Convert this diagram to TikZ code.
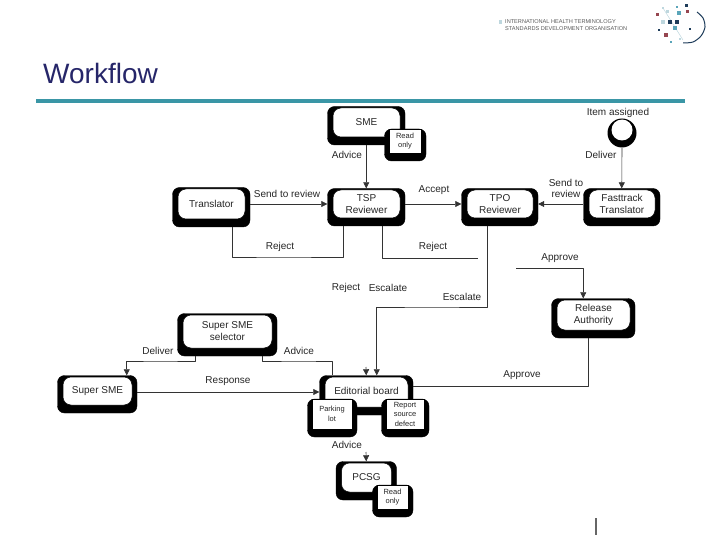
\documentclass[tikz,border=0pt]{standalone}
\usepackage{fontspec}
\setmainfont{Liberation Sans}
\usetikzlibrary{arrows.meta}
\definecolor{titleblue}{RGB}{38,38,105}
\definecolor{ruleteal}{RGB}{58,150,166}
\definecolor{logored}{RGB}{150,70,80}
\definecolor{logonavy}{RGB}{30,60,90}
\definecolor{logoteal}{RGB}{90,165,185}
\definecolor{logopale}{RGB}{190,215,222}
\tikzset{
	wfshade/.style={fill=black,draw=black,inner sep=0pt,rounded corners=7pt},
	wfwhite/.style={fill=white,draw=black,line width=.5pt,inner sep=0pt,rounded corners=8pt,align=center,font=\fontsize{10}{12}\selectfont,text=black!85},
	wfpaper/.style={fill=white,draw=black,line width=.4pt,inner sep=0pt,align=center,font=\fontsize{7.5}{9.5}\selectfont,text=black!85},
	wflabel/.style={inner sep=0pt,align=center,font=\fontsize{10}{11}\selectfont,text=black!85},
	wfline/.style={line width=.6pt,black!80},
}
% name, x, y (centre of the white part), width, height, text
\newcommand{\wfbox}[6]{
	\node[wfshade,minimum width=#4+10.5pt,minimum height=#5+9.5pt] (#1) at (#2-.25,#3+3.25) {};
	\node[wfwhite,minimum width=#4 pt,minimum height=#5 pt] (#1-in) at (#2,#3) {#6};
}
\newcommand{\wfnote}[6]{
	\node[wfshade,minimum width=#4+9.5pt,minimum height=#5+8pt] (#1) at (#2+.25,#3+4) {};
	\node[wfpaper,minimum width=#4 pt,minimum height=#5 pt] (#1-in) at (#2,#3) {#6};
}
\begin{document}
\begin{tikzpicture}[x=1pt,y=-1pt,>={Triangle[length=6pt,width=6pt]},line join=round]
	\useasboundingbox (0,0) rectangle (720,540);
	% header
	\node[inner sep=0pt,anchor=base west,text=titleblue,font=\fontsize{28}{32}\selectfont] (title) at (43,84) {Workflow};
	\draw[ruleteal,line width=4pt] (36,101)--(685,101);
	\fill[logopale] (498.5,20.5) rectangle (502,24);
	\node[inner sep=0pt,anchor=west,align=left,text=black!65,font=\fontsize{5.6}{7.8}\selectfont] (org) at (505,25) {INTERNATIONAL HEALTH TERMINOLOGY\\STANDARDS DEVELOPMENT ORGANISATION};
	\draw[logopale,line width=.5pt] (663,8)--(683,40);
	\foreach \x/\y/\r/\c in {663/8/1.2/logopale,677/7/1.2/logoteal,686/6/1.5/logonavy,667/12/1.5/logopale,679/13/2.4/logoteal,
		687/12/1.5/logored,657/15/1.5/logored,663/22/1.8/logopale,670/22/2.4/logonavy,677/22/2/logonavy,675/28/1.7/logoteal,
		659/30/1.4/logonavy,690/29/1.2/logonavy,666/35/2.2/logored,680/39/1/logopale,671/42/1.4/logoteal}
	\fill[\c] (\x-\r,\y-\r) rectangle (\x+\r,\y+\r);
	\draw[logonavy,line width=1pt,smooth] plot coordinates {(697,12) (703,18) (705,27) (701,36) (693,42) (683,43)};
	\draw[black!60,line width=1.5pt] (596,518)--(596,535);
	% boxes
	\wfbox{SME}{366.5}{122.5}{67}{29}{SME}
	\wfnote{SMEread}{405}{141}{32}{24}{Read\\only}
	\wfbox{Translator}{211.5}{204}{67}{30}{Translator}
	\wfbox{TSP}{366.5}{204}{67}{28}{TSP\\Reviewer}
	\wfbox{TPO}{500}{204}{66}{28}{TPO\\Reviewer}
	\wfbox{Fasttrack}{622}{204}{66}{28}{Fasttrack\\Translator}
	\wfbox{Release}{593.5}{315}{73}{30}{Release\\Authority}
	\wfbox{Selector}{227.5}{331.5}{89}{33}{Super SME\\selector}
	\wfbox{SuperSME}{97.5}{391}{69}{28}{Super SME}
	\wfbox{Editorial}{366.5}{392}{83}{30}{\raisebox{3pt}{Editorial board}}
	\wfnote{Parking}{332}{414}{40}{30}{Parking\\lot}
	\wfnote{Defect}{405}{414}{38}{30}{Report\\source\\defect}
	\wfbox{PCSG}{366.5}{477.5}{50}{29}{PCSG}
	\wfnote{PCSGread}{392.5}{497}{31}{24}{Read\\only}
	\node[circle,fill=black,minimum size=29pt,inner sep=0pt] (Item) at (622,133) {};
	\node[circle,fill=white,minimum size=21pt,inner sep=0pt] (Item-in) at (622,130) {};
	% free ends
	\coordinate (rejectend) at (478,258);
	\coordinate (approvestart) at (516,268);
	\coordinate (boardtip) at (366,367);
	\coordinate (pcsgtip) at (366,452);
	% connectors
	\draw[wfline,->] (SME.south) -- (TSP.north);
	\draw[wfline,->] (Item.south) -- (Fasttrack.north);
	\draw[wfline,->] (Translator.east |- Translator-in) -- (TSP.west |- Translator-in);
	\draw[wfline,->] (TSP.east |- TSP-in) -- (TPO.west |- TSP-in);
	\draw[wfline,->] (Fasttrack.west |- TPO-in) -- (TPO.east |- TPO-in);
	\draw[wfline] ([xshift=21.5pt]Translator.south) |- (280,257) -| ([xshift=-22.5pt]TSP.south);
	\draw[wfline] ([xshift=16.5pt]TSP.south) |- (rejectend);
	\draw[wfline,->] ([xshift=-12pt]TPO.south) |- (432,307) -| ([xshift=10.5pt]Editorial.north);
	\draw[wfline,->] (approvestart) -| ([xshift=-10pt]Release.north);
	\draw[wfline] ([xshift=-5pt]Release.south) |- (Editorial.east |- 500,386);
	\draw[wfline,->] ([xshift=-32pt]Selector.south) |- (160,361) -| ([xshift=29.5pt]SuperSME.north);
	\draw[wfline] ([xshift=35pt]Selector.south) |- (300,361) -| ([xshift=-34pt]Editorial.north);
	\draw[wfline,->] (SuperSME.east |- 100,392) -- (Editorial.west |- 100,392);
	\draw[wfline,->] (boardtip) -- (Editorial.north);
	\draw[wfline,->] (pcsgtip) -- (PCSG.north);
	% labels
	\node[wflabel] (litem) at (618,113) {Item assigned};
	\node[wflabel] (ldeliver) at (601,155) {Deliver};
	\node[wflabel] (lsend) at (566,188.5) {Send to\\review};
	\node[wflabel] (laccept) at (434,190) {Accept};
	\node[wflabel] (lsendt) at (287,194) {Send to review};
	\node[wflabel] (ladvice) at (347,155) {Advice};
	\node[wflabel] (lrejecta) at (280,247) {Reject};
	\node[wflabel] (lrejectb) at (433,247) {Reject};
	\node[wflabel] (lapprovea) at (560,258) {Approve};
	\node[wflabel] (lrejectc) at (346,288) {Reject};
	\node[wflabel] (lescalatea) at (388,288) {Escalate};
	\node[wflabel] (lescalateb) at (462,297) {Escalate};
	\node[wflabel] (ldeliverb) at (158,351) {Deliver};
	\node[wflabel] (ladviceb) at (299,351) {Advice};
	\node[wflabel] (lresponse) at (228,381) {Response};
	\node[wflabel] (lapproveb) at (522,375) {Approve};
	\node[wflabel] (ladvicec) at (347,445) {Advice};
\end{tikzpicture}
\end{document}
